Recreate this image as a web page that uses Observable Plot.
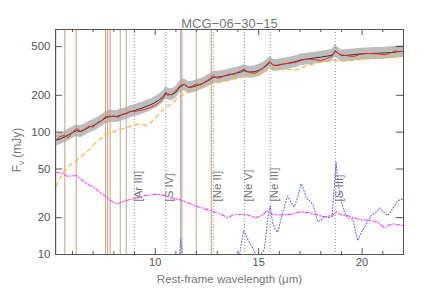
<!DOCTYPE html>
<html><head><meta charset="utf-8">
<script src="https://cdn.jsdelivr.net/npm/d3@7"></script>
<script src="https://cdn.jsdelivr.net/npm/@observablehq/plot@0.6"></script>
<style>body{margin:0;background:#fff}</style>
</head><body><div id="chart"></div>
<script>
const title = "MCG\u221206\u221230\u221215";
const xLabel = "Rest-frame wavelength (\u03bcm)";

// observed spectrum (black) and its uncertainty band (grey)
const specLam = [5.2,5.4,5.6,5.8,6.0,6.2,6.4,6.6,6.8,7.0,7.2,7.4,7.6,7.8,8.0,8.2,8.4,8.6,8.8,9.0,9.2,9.4,9.6,9.8,10.0,10.2,10.4,10.5,10.6,10.8,11.0,11.2,11.4,11.6,11.8,12.0,12.2,12.4,12.6,12.8,13.0,13.2,13.4,13.6,13.8,14.0,14.2,14.3,14.4,14.6,14.8,15.0,15.2,15.4,15.55,15.7,15.9,16.2,16.5,16.8,17.1,17.4,17.7,18.0,18.3,18.55,18.7,18.85,19.0,19.3,19.6,19.9,20.2,20.5,20.8,21.1,21.4,21.7,22.0];
const specFlux = [86,88,91,95,99,103,101,105,110,113,118,124,131,135,134,135,139,142,147,150,154,158,163,168,175,184,196,210,205,202,212,235,245,232,234,240,247,255,266,280,282,284,289,294,300,306,312,320,312,310,312,320,332,352,372,352,352,360,368,378,392,397,404,410,418,425,462,440,422,425,430,436,438,440,441,444,447,453,458];
const bandLo = [77,79,82,85,89,92,90,94,98,101,105,111,117,120,120,120,124,127,131,134,137,141,145,150,156,164,175,188,183,180,189,210,219,207,209,214,221,228,237,250,252,253,258,262,268,273,278,285,278,276,278,285,296,314,332,314,314,321,328,337,350,354,360,365,372,379,412,392,376,379,383,389,390,392,393,396,398,404,408];
const bandHi = [96,98,101,106,110,115,113,117,123,126,132,138,146,151,150,151,155,158,164,167,172,176,182,187,195,205,218,234,229,225,236,262,273,259,261,268,275,284,297,312,314,317,322,328,335,341,348,357,348,346,348,357,370,393,415,393,393,401,410,421,437,443,450,457,466,474,515,490,470,474,479,486,488,490,491,495,498,505,510];

// model fit (red)
const fitLam = [5.2,5.4,5.6,5.8,6.0,6.2,6.4,6.6,6.8,7.0,7.2,7.4,7.6,7.8,8.0,8.2,8.4,8.6,8.8,9.0,9.2,9.4,9.6,9.8,10.0,10.2,10.4,10.5,10.6,10.8,11.0,11.2,11.4,11.6,11.8,12.0,12.2,12.4,12.6,12.8,13.0,13.2,13.4,13.6,13.8,14.0,14.2,14.3,14.4,14.6,14.8,15.0,15.2,15.4,15.55,15.7,15.9,16.2,16.5,16.8,17.1,17.4,17.7,18.0,18.3,18.55,18.7,18.85,19.0,19.3,19.6,19.9,20.2,20.5,20.8,21.1,21.4,21.6,21.8,22.0];
const fitFlux = [86,92,94,90,100,107,102,106,112,110,120,124,134,133,136,132,140,143,148,147,150,152,155,160,166,175,190,205,200,204,218,240,247,232,238,247,242,258,270,289,276,280,290,299,295,310,322,328,318,305,302,315,335,360,379,352,349,362,365,372,388,396,392,384,400,418,457,440,429,420,415,432,440,438,435,428,445,462,455,457];

// continuum (orange dashed)
const contLam = [5.2,5.4,5.6,5.9,6.2,6.5,6.8,7.1,7.4,7.7,8.0,8.3,8.6,9.0,9.3,9.6,9.9,10.2,10.5,10.8,11.1,11.4,11.8,12.2,12.7,13.2,13.7,14.2,14.8,15.3,15.8,16.3,16.8,17.3,17.9,18.4,18.7,19.2,19.7,20.2,20.7,21.2,21.6,22.0];
const contFlux = [36,42,48,54,59,65,72,81,90,98,101,105,109,115,117,113,125,142,158,172,190,205,220,232,248,258,270,280,290,315,334,326,322,348,372,380,386,380,390,396,403,408,413,420];

// magenta dash-dot component
const compLam = [5.2,5.5,5.75,6.0,6.2,6.5,6.8,7.05,7.3,7.55,7.8,8.1,8.3,8.6,8.9,9.2,9.6,9.95,10.2,10.45,10.8,11.2,11.6,12.0,12.4,12.8,13.2,13.5,13.8,14.4,14.87,15.2,15.4,15.6,16.0,16.5,17.0,17.4,17.7,18.2,18.6,18.75,19.0,19.3,19.6,19.95,20.4,20.76,21.08,21.3,21.56,22.0];
const compFlux = [47,46,43.5,44,44,40,37,35.4,32.5,30.3,28,26,26.5,27.6,28.5,29.4,30.5,31,31,30.3,29,28,26.3,24.8,23.6,22.5,21.2,20,21.2,21.2,20,21,22.9,21.5,21,21.2,22.3,22,21.3,20.3,21,22.5,21,20.8,20,19.2,19,18.4,16.4,17.5,17.8,17.2];

// emission-line residual (blue dotted)
const resLam = [10.9,11.1,11.18,11.24,11.3,11.38,13.8,14.0,14.15,14.27,14.45,14.63,14.8,14.95,15.1,15.27,15.45,15.55,15.68,15.8,15.92,16.1,16.25,16.4,16.55,16.72,16.9,17.05,17.15,17.3,17.5,17.65,17.85,18.0,18.17,18.4,18.55,18.65,18.74,18.82,18.99,19.15,19.3,19.55,19.7,19.79,19.95,20.11,20.3,20.44,20.65,20.84,21.0,21.24,21.5,21.73,22.0];
const resFlux = [7,8,10.5,13.4,10.5,8,6,8,12,15.7,13.5,12,10.5,9.8,10,11,20,25,18,16,15.2,20,25,30,27,24.5,30,38,35,29,27,25,18.6,19,20.5,20,20.5,35,57,40,27,22,20,19.5,15,13,15,16.7,19,20.8,22,24,22.5,20.8,24,27.6,28.4];

// feature markers
const pahOrange = [5.63,6.18,7.60,7.70,7.82,12.71];
const pahTan = [8.31,8.60,11.23,11.29,11.98];
const ionLam = [8.99,10.51,12.81,14.32,15.56,18.71];
const ionName = ["[Ar III]","[S IV]","[Ne II]","[Ne V]","[Ne III]","[S III]"];

// ticks
const xMajorTicks = [10,15,20];
const xMinorTicks = [6,7,8,9,11,12,13,14,16,17,18,19,21];
const yTicks = [10,20,50,100,200,500];

const W = 436, H = 291, mL = 55, mR = 33, mT = 29, mB = 37;
const pH = H - mT - mB, pW = W - mL - mR;

const spec = specLam.map((x,i)=>({x, y: specFlux[i], lo: bandLo[i], hi: bandHi[i]}));
const fit = fitLam.map((x,i)=>({x, y: fitFlux[i]}));
const cont = contLam.map((x,i)=>({x, y: contFlux[i]}));
const comp = compLam.map((x,i)=>({x, y: compFlux[i]}));
const res = resLam.map((x,i)=>({x, y: resFlux[i]}));
const ions = ionLam.map((x,i)=>({x, name: ionName[i]}));

const axisColor = "#555";
const chart = Plot.plot({
  width: W, height: H,
  marginLeft: mL, marginRight: mR, marginTop: mT, marginBottom: mB,
  style: {fontFamily: "'Liberation Sans', Arial, sans-serif", fontSize: "11px", color: "#666", background: "#fff"},
  x: {domain: [5.18, 22.0]},
  y: {type: "log", domain: [10, 690]},
  marks: [
    Plot.rect([0], {x1: () => 5.18, x2: () => 5.27, fill: "#ead6c8"}),
    Plot.areaY(spec, {x: "x", y1: "lo", y2: "hi", fill: "#bdbdbd"}),
    Plot.ruleX(pahOrange, {x: d => d, stroke: "#d29a74", strokeWidth: 1}),
    Plot.ruleX(pahTan, {x: d => d, stroke: "#c4a292", strokeWidth: 1}),
    Plot.ruleX(ions, {x: "x", stroke: "#999", strokeDasharray: "1,2", strokeWidth: 1}),
    Plot.text(ions, {x: "x", frameAnchor: "bottom", dy: -53, dx: 7.5, text: "name", rotate: -90, textAnchor: "start", fill: "#777", fontSize: 11.5}),
    Plot.line(cont, {x: "x", y: "y", stroke: "#ffb036", strokeWidth: 1.2, strokeDasharray: "4,4"}),
    Plot.line(comp, {x: "x", y: "y", stroke: "#ff40ff", strokeWidth: 1.1, strokeDasharray: "4,2,1,2"}),
    Plot.line(res, {x: "x", y: "y", stroke: "#6a6aff", strokeWidth: 1.1, strokeDasharray: "1,2", clip: true}),
    Plot.line(spec, {x: "x", y: "y", stroke: "#333", strokeWidth: 1}),
    Plot.line(fit, {x: "x", y: "y", stroke: "#ee2c2c", strokeWidth: 1}),
    Plot.tickX(xMajorTicks, {x: d => d, insetTop: pH - 6, stroke: axisColor}),
    Plot.tickX(xMajorTicks, {x: d => d, insetBottom: pH - 6, stroke: axisColor}),
    Plot.tickX(xMinorTicks, {x: d => d, insetTop: pH - 3, stroke: axisColor}),
    Plot.tickX(xMinorTicks, {x: d => d, insetBottom: pH - 3, stroke: axisColor}),
    Plot.tickY(yTicks, {y: d => d, insetRight: pW - 7, stroke: axisColor}),
    Plot.tickY(yTicks, {y: d => d, insetLeft: pW - 7, stroke: axisColor}),
    Plot.frame({stroke: axisColor}),
    Plot.axisX({ticks: xMajorTicks, tickSize: 0, tickPadding: 4, tickFormat: d => String(d), label: null, fontSize: 11, fill: "#555"}),
    Plot.axisY({ticks: yTicks, tickSize: 0, tickPadding: 5, tickFormat: d => String(d), label: null, fontSize: 11.5, fill: "#555"}),
    Plot.text([title], {frameAnchor: "top", dy: -11, fontSize: 13, fill: "#777"}),
    Plot.text([xLabel], {frameAnchor: "bottom", dy: 28, fontSize: 11.5, fill: "#777"})
  ]
});

const svg = d3.select(chart);
const yl = svg.append("text")
  .attr("transform", "translate(21,150) rotate(-90)")
  .attr("text-anchor", "middle")
  .attr("fill", "#777")
  .style("font-size", "12px")
  .style("font-family", "'Liberation Sans', Arial, sans-serif");
yl.append("tspan").text("F");
yl.append("tspan").attr("font-size", "8px").attr("dy", 3).text("\u03bd");
yl.append("tspan").attr("dy", -3).text(" (mJy)");

document.getElementById("chart").appendChild(chart);
</script>
</body></html>
